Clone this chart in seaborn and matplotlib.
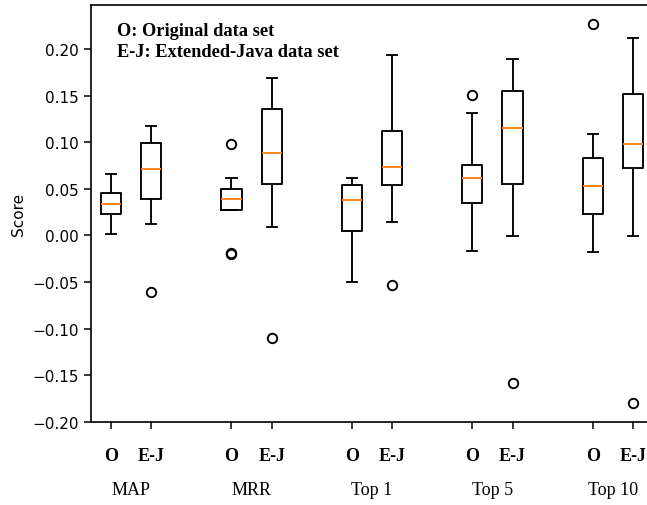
import numpy as np
import pandas as pd
import matplotlib
matplotlib.use("Agg")
import matplotlib.pyplot as plt
import matplotlib.transforms as mtransforms
import seaborn as sns

# ---- data ----
metrics = ["MAP", "MRR", "Top 1", "Top 5", "Top 10"]
datasets = ["O", "E-J"]
positions = [1, 2, 4, 5, 7, 8, 10, 11, 13, 14]
yticks = [-0.20, -0.15, -0.10, -0.05, 0.00, 0.05, 0.10, 0.15, 0.20]

map_o = [0.0014, 0.0236, 0.0338, 0.0460, 0.0655]
map_ej = [-0.0604, 0.0118, 0.0397, 0.0550, 0.0719, 0.0850, 0.0998, 0.1100, 0.1180]
mrr_o = [-0.0203, -0.0183, 0.0272, 0.0330, 0.0397, 0.0450, 0.0504, 0.0612, 0.0980]
mrr_ej = [-0.1105, 0.0086, 0.0558, 0.0700, 0.0890, 0.1100, 0.1355, 0.1500, 0.1695]
top1_o = [-0.0504, 0.0046, 0.0379, 0.0540, 0.0622]
top1_ej = [-0.0533, 0.0147, 0.0547, 0.0650, 0.0733, 0.0900, 0.1120, 0.1500, 0.1942]
top5_o = [-0.0172, 0.0200, 0.0350, 0.0500, 0.0622, 0.0700, 0.0762, 0.1320, 0.1510]
top5_ej = [-0.1588, -0.0007, 0.0550, 0.0900, 0.1151, 0.1400, 0.1556, 0.1700, 0.1900]
top10_o = [-0.0179, 0.0100, 0.0236, 0.0400, 0.0529, 0.0700, 0.0837, 0.1094, 0.2267]
top10_ej = [-0.1800, -0.0007, 0.0726, 0.0850, 0.0980, 0.1200, 0.1524, 0.1800, 0.2121]

samples = [map_o, map_ej, mrr_o, mrr_ej, top1_o, top1_ej,
           top5_o, top5_ej, top10_o, top10_ej]
tick_labels = datasets * len(metrics)

rows = []
for pos, vals in zip(positions, samples):
    for v in vals:
        rows.append({"pos": pos, "score": v})
df = pd.DataFrame(rows)

# ---- figure ----
fig = plt.figure(figsize=(6.47, 5.06), dpi=100)
ax = fig.add_axes([91 / 647, 1 - 423 / 506, 562 / 647, 417 / 506])

sns.boxplot(
    data=df, x="pos", y="score", native_scale=True, width=0.5,
    fill=False, color="black", linecolor="black", linewidth=1.35,
    medianprops={"color": "#ff7f0e", "linewidth": 1.35},
    flierprops={"marker": "o", "markerfacecolor": "none",
                "markeredgecolor": "black", "markersize": 6.8,
                "markeredgewidth": 1.35},
    ax=ax,
)

for s in ax.spines.values():
    s.set_linewidth(1.2)

ax.set_xlim(0.5, 14.5)
ax.set_ylim(-0.2003, 0.2475)
ax.set_yticks(yticks)
ax.set_yticklabels([f"{t:.2f}".replace("-", "\u2212") for t in yticks])
ax.tick_params(axis="y", labelsize=11, width=1.1, length=5)
ax.set_xticks(positions)
ax.set_xticklabels(tick_labels, fontfamily="Liberation Serif",
                   fontweight="bold", fontsize=13)
ax.tick_params(axis="x", pad=13, width=1.1, length=5)
ax.set_xlabel("")
ax.set_ylabel("Score", fontsize=11)
ax.yaxis.set_label_coords(-0.115, 0.5)

trans = mtransforms.blended_transform_factory(ax.transData, ax.transAxes)
for i, m in enumerate(metrics):
    cx = (positions[2 * i] + positions[2 * i + 1]) / 2
    ax.text(cx, -0.1607, m, transform=trans, ha="center", va="center",
            fontfamily="Liberation Serif", fontsize=13)

ax.text(0.0463, 0.9384, "O: Original data set", transform=ax.transAxes,
        ha="left", va="center", fontfamily="Liberation Serif",
        fontweight="bold", fontsize=13.2)
ax.text(0.0463, 0.888, "E-J: Extended-Java data set", transform=ax.transAxes,
        ha="left", va="center", fontfamily="Liberation Serif",
        fontweight="bold", fontsize=13.2)

fig.savefig("out.png", dpi=100)
